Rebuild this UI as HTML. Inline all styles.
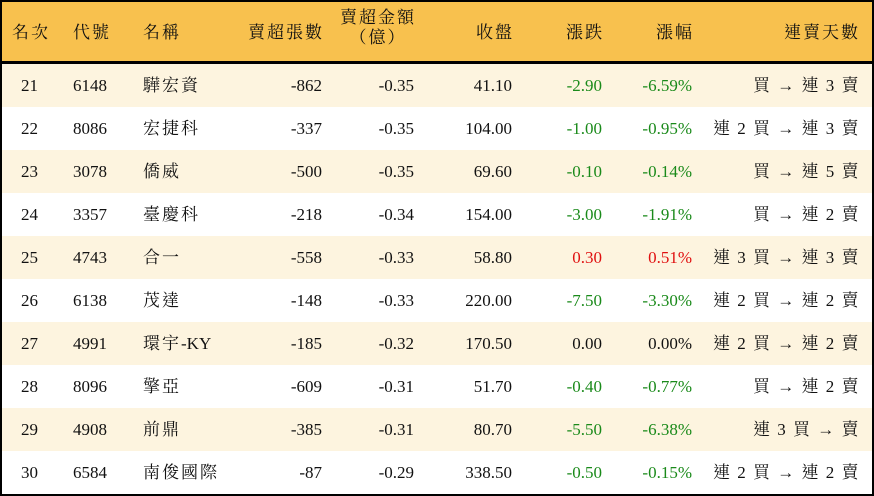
<!DOCTYPE html>
<html><head><meta charset="utf-8"><style>
html,body{margin:0;padding:0;background:#fff}
.w{position:absolute;left:0;top:0;width:870px;height:492px;border:2px solid #000;overflow:hidden;font-family:"Liberation Serif","Noto Serif CJK TC","Noto Serif CJK SC",serif;font-size:17px;color:#111}
.h{position:absolute;left:0;top:0;width:870px;height:59px;background:#f8c14e;border-bottom:3px solid #000}
.r{position:absolute;left:0;width:870px;height:43px}
.c{position:absolute;white-space:nowrap;line-height:20px}
.k{letter-spacing:2px}
.g{color:#1a8a1a}.red{color:#e01010}
</style></head><body><div class="w">
<div class="h">
<div class="c k" style="left:10px;top:21px">名次</div>
<div class="c k" style="left:71px;top:21px">代號</div>
<div class="c k" style="left:141px;top:21px">名稱</div>
<div class="c k" style="right:548px;top:21px">賣超張數</div>
<div class="c k" style="right:452px;top:6px;text-align:center;width:84px">賣超金額<br>（億）</div>
<div class="c k" style="right:358px;top:21px">收盤</div>
<div class="c k" style="right:268px;top:21px">漲跌</div>
<div class="c k" style="right:178px;top:21px">漲幅</div>
<div class="c k" style="right:12px;top:21px">連賣天數</div>
</div>
<div id="rows"></div>
</div>
<script>
var d=[["21","6148","驊宏資","-862","-0.35","41.10","-2.90","-6.59%","買 → 連 3 賣","g"],
["22","8086","宏捷科","-337","-0.35","104.00","-1.00","-0.95%","連 2 買 → 連 3 賣","g"],
["23","3078","僑威","-500","-0.35","69.60","-0.10","-0.14%","買 → 連 5 賣","g"],
["24","3357","臺慶科","-218","-0.34","154.00","-3.00","-1.91%","買 → 連 2 賣","g"],
["25","4743","合一","-558","-0.33","58.80","0.30","0.51%","連 3 買 → 連 3 賣","red"],
["26","6138","茂達","-148","-0.33","220.00","-7.50","-3.30%","連 2 買 → 連 2 賣","g"],
["27","4991","環宇-KY","-185","-0.32","170.50","0.00","0.00%","連 2 買 → 連 2 賣",""],
["28","8096","擎亞","-609","-0.31","51.70","-0.40","-0.77%","買 → 連 2 賣","g"],
["29","4908","前鼎","-385","-0.31","80.70","-5.50","-6.38%","連 3 買 → 賣","g"],
["30","6584","南俊國際","-87","-0.29","338.50","-0.50","-0.15%","連 2 買 → 連 2 賣","g"]];
var h="";d.forEach(function(r,i){var t=62+i*43;
var nm=r[2].replace("-KY","<span style='letter-spacing:0'>-KY</span>");
h+='<div class="r" style="top:'+t+'px;background:'+(i%2?'#fff':'#fdf4df')+'">'+
'<div class="c" style="left:19px;top:12px">'+r[0]+'</div>'+
'<div class="c" style="left:71px;top:12px">'+r[1]+'</div>'+
'<div class="c" style="left:141px;top:12px;letter-spacing:2px">'+nm+'</div>'+
'<div class="c" style="right:550px;top:12px">'+r[3]+'</div>'+
'<div class="c" style="right:458px;top:12px">'+r[4]+'</div>'+
'<div class="c" style="right:360px;top:12px">'+r[5]+'</div>'+
'<div class="c '+r[9]+'" style="right:270px;top:12px">'+r[6]+'</div>'+
'<div class="c '+r[9]+'" style="right:180px;top:12px">'+r[7]+'</div>'+
'<div class="c" style="right:12px;top:12px;letter-spacing:1.5px">'+r[8]+'</div></div>';});
document.getElementById("rows").innerHTML=h;
</script></body></html>
